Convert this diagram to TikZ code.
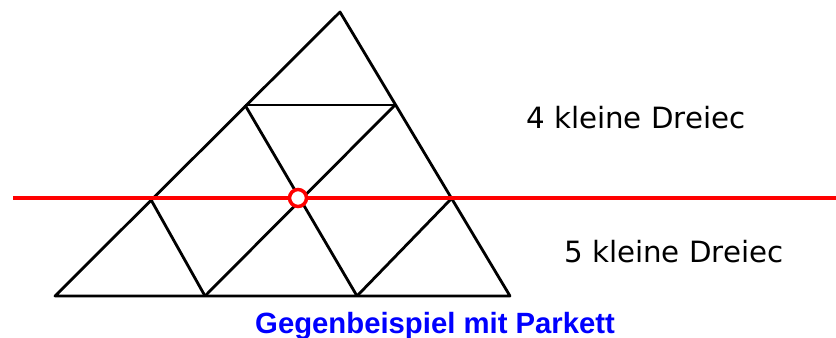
\documentclass[tikz,border=0pt]{standalone}
\usepackage{fontspec}
\usepackage{tikz,xcolor}
\newfontfamily\labelfont{DejaVu Sans}
\newfontfamily\titlefont{Liberation Sans}
\usetikzlibrary{calc}
\definecolor{cutred}{RGB}{255,0,0}
\definecolor{titleblue}{RGB}{0,0,255}
\tikzset{
  edge/.style={black, line width=2.4pt, line join=round},
  cutline/.style={cutred, line width=4.2pt},
  cutpoint/.style={cutred, line width=3pt, fill=white},
  countlabel/.style={anchor=base west, inner sep=0pt, font=\labelfont\fontsize{25}{29}\selectfont},
  titlelabel/.style={anchor=base west, inner sep=0pt, text=titleblue, font=\titlefont\bfseries\fontsize{25}{30}\selectfont}
}
\begin{document}
\begin{tikzpicture}[x=0.03cm, y=-0.03cm]
\useasboundingbox (0,0) rectangle (836,338);
% Corners of the big triangle
  \coordinate (top) at (340,12);
  \coordinate (left) at (55,296);
  \coordinate (right) at (510,296);
  % Points on the sides
  \coordinate (left1) at (245,105);
  \coordinate (left2) at (150,198);
  \coordinate (right1) at (395,105);
  \coordinate (right2) at (452,198);
  \coordinate (base1) at (205,296);
  \coordinate (base2) at (357,296);
  \coordinate (mid) at (298,198);
  \coordinate (cutstart) at (13,198);
  \coordinate (cutend) at (836,198);
% Draw the big triangle
  \draw[edge] (top) -- (left) -- (right) -- cycle;
  % Draw the inner lines
  \draw[edge] (left1) -- (right1);
  \draw[edge] (left1) -- (base2);
  \draw[edge] (right1) -- (base1);
  \draw[edge] (left2) -- (base1);
  \draw[edge] (right2) -- (base2);
% Draw the red line and the point on it
  \draw[cutline] (cutstart) -- (cutend);
  \filldraw[cutpoint] (mid) circle (8.5);
% Labels on the right, cut off at the end
\begin{scope}
  \clip (0,0) rectangle (744,338);
  \node[countlabel] (upper) at (526,128) {4 kleine Dreiec};
\end{scope}
\begin{scope}
  \clip (0,0) rectangle (782,338);
  \node[countlabel] (lower) at (564,262) {5 kleine Dreiec};
\end{scope}
 \node[titlelabel] (title) at (255,333) {Gegenbeispiel mit Parkett};
\end{tikzpicture}
\end{document}
